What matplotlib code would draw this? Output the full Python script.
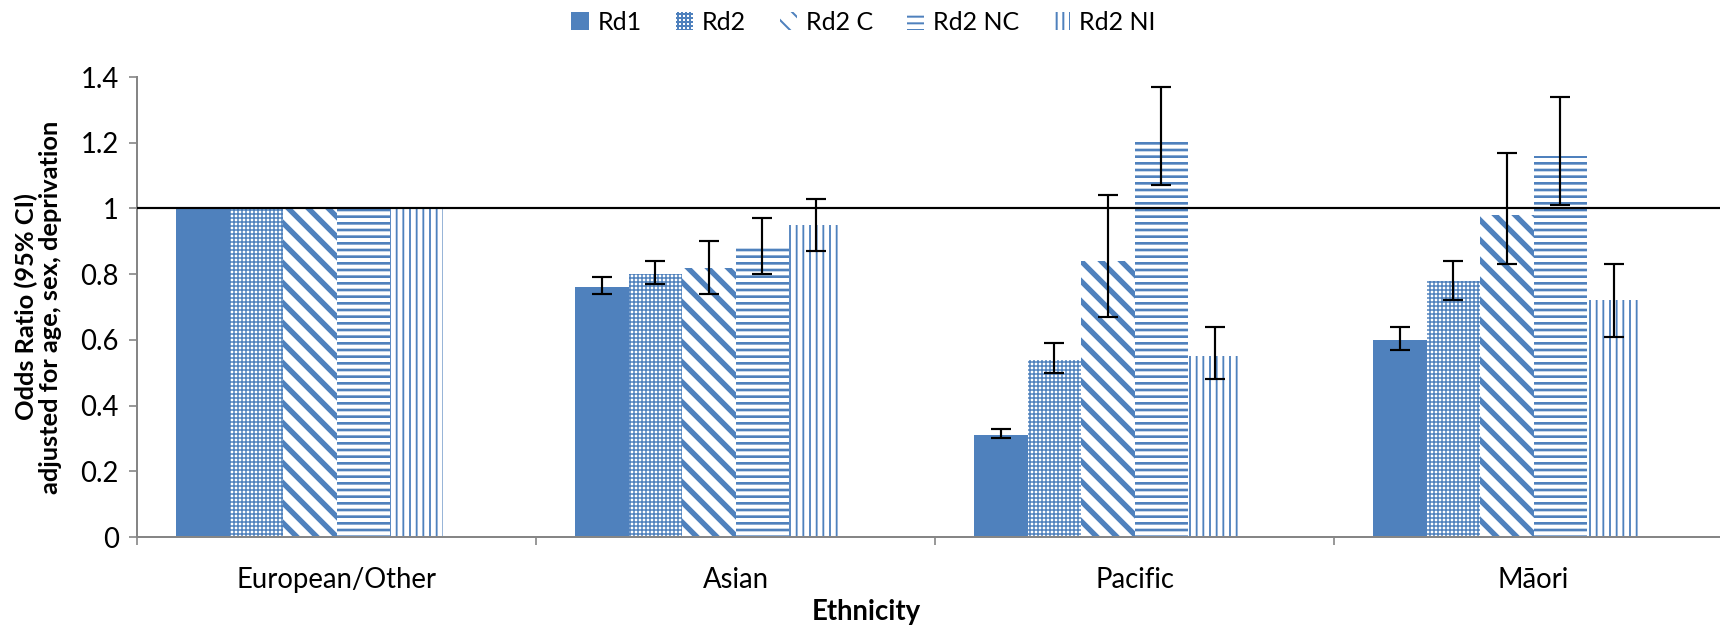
import matplotlib
matplotlib.use("Agg")
import matplotlib.pyplot as plt
import numpy as np
from matplotlib.ticker import FormatStrFormatter, FixedLocator

# ---------------------------------------------------------------------------
# Data
# ---------------------------------------------------------------------------

categories = ["European/Other", "Asian", "Pacific", "Māori"]
series = ["Rd1", "Rd2", "Rd2 C", "Rd2 NC", "Rd2 NI"]

odds_rd1   = [1.00, 0.76, 0.31, 0.60]
odds_rd2   = [1.00, 0.80, 0.54, 0.78]
odds_rd2c  = [1.00, 0.82, 0.84, 0.98]
odds_rd2nc = [1.00, 0.88, 1.21, 1.16]
odds_rd2ni = [1.00, 0.95, 0.55, 0.72]

lo_rd1   = [1.00, 0.74, 0.30, 0.57]
lo_rd2   = [1.00, 0.77, 0.50, 0.72]
lo_rd2c  = [1.00, 0.74, 0.67, 0.83]
lo_rd2nc = [1.00, 0.80, 1.07, 1.01]
lo_rd2ni = [1.00, 0.87, 0.48, 0.61]

hi_rd1   = [1.00, 0.79, 0.33, 0.64]
hi_rd2   = [1.00, 0.84, 0.59, 0.84]
hi_rd2c  = [1.00, 0.90, 1.04, 1.17]
hi_rd2nc = [1.00, 0.97, 1.37, 1.34]
hi_rd2ni = [1.00, 1.03, 0.64, 0.83]

odds = [odds_rd1, odds_rd2, odds_rd2c, odds_rd2nc, odds_rd2ni]
lows = [lo_rd1, lo_rd2, lo_rd2c, lo_rd2nc, lo_rd2ni]
highs = [hi_rd1, hi_rd2, hi_rd2c, hi_rd2nc, hi_rd2ni]

y_ticks = [0, 0.2, 0.4, 0.6, 0.8, 1.0, 1.2, 1.4]

# ---------------------------------------------------------------------------
# Style
# ---------------------------------------------------------------------------

BLUE = "#4F81BD"
GREY = "#868686"
FONT = ["Lato", "DejaVu Sans"]
FS = 16.5        # tick labels, x title
FS_Y = 15.2      # y title
FS_LEG = 15.0    # legend

# face, hatch, hatch linewidth (pt) per series
STYLES = [
    (BLUE,    None,      0.0),
    ("white", "+++++",   0.9),
    ("white", "\\\\",    3.2),
    ("white", "---",     1.6),
    ("white", "|||",     1.1),
]

plt.rcParams["font.family"] = FONT
plt.rcParams["hatch.linewidth"] = 1.2

DPI = 120
fig = plt.figure(figsize=(1720 / DPI, 626 / DPI), dpi=DPI)
# the category axis runs slightly past the right edge, as in the source image
ax = fig.add_axes([137 / 1720, 1 - 537 / 626, 1596 / 1720, 460 / 626])

x = np.arange(len(categories))
w = 0.134  # six slots per category, the last one empty

handles = []
for j, name in enumerate(series):
    face, hatch, hlw = STYLES[j]
    xpos = x + (j - 2.5) * w
    vals = np.array(odds[j])
    bars = ax.bar(xpos, vals, width=w, color=face, edgecolor=BLUE,
                  linewidth=0, hatch=hatch, label=name, zorder=2)
    for b in bars:
        if hatch and hasattr(b, "set_hatch_linewidth"):
            b.set_hatch_linewidth(hlw)
    handles.append(bars)

    yerr = np.array([vals - np.array(lows[j]), np.array(highs[j]) - vals])
    has_err = yerr.sum(axis=0) > 0
    ax.errorbar(xpos[has_err], vals[has_err], yerr=yerr[:, has_err], fmt="none",
                ecolor="black", elinewidth=1.3, capsize=6, capthick=1.3, zorder=4)

# reference line at OR = 1
ax.axhline(1.0, color="black", linewidth=1.3, zorder=3)

ax.set_xlim(-0.5, len(categories) - 0.5)
ax.set_ylim(0, 1.4)
ax.set_yticks(y_ticks)
ax.yaxis.set_major_formatter(FormatStrFormatter("%g"))
ax.set_xticks(x)
ax.set_xticklabels(categories)
ax.xaxis.set_minor_locator(FixedLocator(np.arange(-0.5, len(categories), 1.0)))

ax.tick_params(axis="x", which="major", length=0, pad=18, labelsize=FS)
ax.tick_params(axis="x", which="minor", length=5, width=1, color=GREY, direction="out")
ax.tick_params(axis="y", length=5, width=1, color=GREY, direction="out",
               pad=6, labelsize=FS)

ax.spines[["top", "right"]].set_visible(False)
for side in ["left", "bottom"]:
    ax.spines[side].set_color(GREY)
    ax.spines[side].set_linewidth(1.2)

ax.set_ylabel("Odds Ratio (95% CI)\nadjusted for age, sex, deprivation",
              fontsize=FS_Y, fontweight="bold", linespacing=1.05)
ax.yaxis.label.set_va("center")
ax.yaxis.set_label_coords(-0.062, 0.5)
ax.set_xlabel("Ethnicity", fontsize=FS, fontweight="bold")
ax.xaxis.label.set_va("center")
ax.xaxis.set_label_coords(0.457, -0.163)

fig.legend(handles=handles, labels=series, loc="center",
           bbox_to_anchor=(0.502, 1 - 22 / 626), ncol=5, frameon=False,
           fontsize=FS_LEG, handlelength=0.7, handleheight=0.7,
           handletextpad=0.35, columnspacing=1.35)

fig.savefig("out.png", dpi=DPI)
